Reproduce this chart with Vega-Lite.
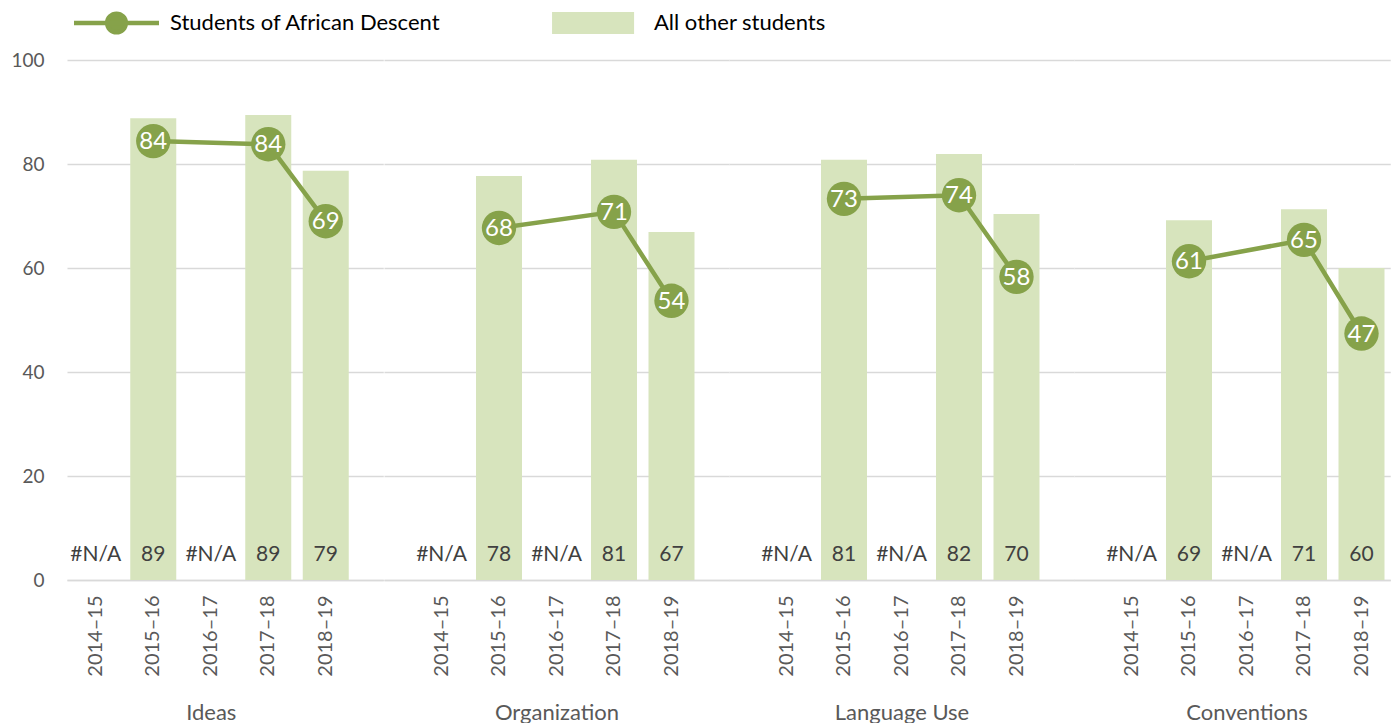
{
  "$schema": "https://vega.github.io/schema/vega-lite/v6.json",
  "padding": {"left": 10, "top": 10, "right": 5, "bottom": 5},
  "background": "white",
  "config": {
    "font": "Lato",
    "view": {"stroke": null},
    "axis": {"labelFont": "Lato", "titleFont": "Lato"},
    "axisX": {
      "labelAngle": -90,
      "labelFontSize": 20,
      "labelColor": "#595959",
      "labelPadding": 15,
      "ticks": false,
      "domainColor": "#d9d9d9",
      "domainWidth": 1.5,
      "grid": false,
      "titleFontSize": 22,
      "titleColor": "#595959",
      "titleFontWeight": "normal",
      "titlePadding": 26
    },
    "axisY": {
      "ticks": false,
      "domain": false,
      "gridColor": "#d9d9d9",
      "gridWidth": 1.5
    }
  },
  "data": {
    "values": [
      {"group": "Ideas", "year": "2014–15", "other": null, "african": null},
      {"group": "Ideas", "year": "2015–16", "other": 88.8, "african": 84.4},
      {"group": "Ideas", "year": "2016–17", "other": null, "african": null},
      {"group": "Ideas", "year": "2017–18", "other": 89.4, "african": 83.8},
      {"group": "Ideas", "year": "2018–19", "other": 78.7, "african": 69.0},
      {"group": "Organization", "year": "2014–15", "other": null, "african": null},
      {"group": "Organization", "year": "2015–16", "other": 77.7, "african": 67.7},
      {"group": "Organization", "year": "2016–17", "other": null, "african": null},
      {"group": "Organization", "year": "2017–18", "other": 80.8, "african": 70.8},
      {"group": "Organization", "year": "2018–19", "other": 66.9, "african": 53.7},
      {"group": "Language Use", "year": "2014–15", "other": null, "african": null},
      {"group": "Language Use", "year": "2015–16", "other": 80.8, "african": 73.3},
      {"group": "Language Use", "year": "2016–17", "other": null, "african": null},
      {"group": "Language Use", "year": "2017–18", "other": 81.9, "african": 74.0},
      {"group": "Language Use", "year": "2018–19", "other": 70.4, "african": 58.3},
      {"group": "Conventions", "year": "2014–15", "other": null, "african": null},
      {"group": "Conventions", "year": "2015–16", "other": 69.2, "african": 61.3},
      {"group": "Conventions", "year": "2016–17", "other": null, "african": null},
      {"group": "Conventions", "year": "2017–18", "other": 71.3, "african": 65.4},
      {"group": "Conventions", "year": "2018–19", "other": 60.0, "african": 47.4}
    ]
  },
  "spacing": 0,
  "resolve": {
    "scale": {"x": "independent", "y": "shared", "color": "shared"},
    "axis": {"x": "independent", "y": "independent"}
  },
  "hconcat": [
    {
      "width": 316.25,
      "height": 520,
      "transform": [{"filter": "datum.group === 'Ideas'"}],
      "encoding": {
        "x": {
          "field": "year", "type": "ordinal",
          "sort": ["2014–15", "2015–16", "2016–17", "2017–18", "2018–19"],
          "scale": {"paddingInner": 0.2, "paddingOuter": 0.35, "align": 0.142857},
          "axis": {"title": "Ideas", "titleX": 143.75}
        }
      },
      "layer": [
        {
          "mark": {"type": "bar"},
          "encoding": {
            "y": {
              "field": "other", "type": "quantitative",
              "scale": {"domain": [0, 100], "nice": false},
              "axis": {
                "title": null,
                "values": [0, 20, 40, 60, 80, 100],
                "labelFontSize": 19,
                "labelColor": "#595959",
                "labelPadding": 23
              }
            },
            "color": {
              "datum": "All other students",
              "scale": {
                "domain": ["Students of African Descent", "All other students"],
                "range": ["#86a24a", "#d7e4bd"]
              },
              "legend": {
                "title": null,
                "orient": "top",
                "direction": "horizontal",
                "symbolSize": 7225,
                "clipHeight": 26,
                "columnPadding": 110,
                "labelFont": "Lato",
                "labelFontSize": 22,
                "labelColor": "#000000",
                "labelLimit": 400,
                "offset": 15,
                "padding": 0,
                "encode": {
                  "symbols": {
                    "update": {
                      "x": {"value": 49.5},
                      "shape": {"signal": "datum.value === 'All other students' ? 'M-1.14,-0.26H0.79V0.26H-1.14Z' : 'M-1,0H1M0.22,0A0.22,0.22,0,1,1,-0.22,0A0.22,0.22,0,1,1,0.22,0Z'"},
                      "fill": {"scale": "color", "field": "value"},
                      "stroke": {"scale": "color", "field": "value"},
                      "strokeWidth": {"signal": "datum.value === 'All other students' ? 0 : 4.5"},
                      "opacity": {"value": 1}
                    }
                  },
                  "labels": {"update": {"x": {"value": 103}}}
                }
              }
            }
          }
        },
        {
          "transform": [{"calculate": "datum.other == null ? '#N/A' : format(datum.other, '.0f')", "as": "otherLabel"}],
          "mark": {"type": "text", "baseline": "alphabetic", "dy": -19, "fontSize": 21, "color": "#404040"},
          "encoding": {"y": {"datum": 0}, "text": {"field": "otherLabel"}}
        },
        {
          "transform": [{"filter": "datum.african != null"}],
          "mark": {"type": "line", "strokeWidth": 4.5},
          "encoding": {"y": {"field": "african", "type": "quantitative"}, "color": {"datum": "Students of African Descent"}}
        },
        {
          "transform": [{"filter": "datum.african != null"}],
          "mark": {"type": "point", "filled": true, "size": 1180, "opacity": 1, "shape": "circle"},
          "encoding": {"y": {"field": "african", "type": "quantitative"}, "color": {"datum": "Students of African Descent"}}
        },
        {
          "transform": [{"filter": "datum.african != null"}],
          "mark": {"type": "text", "baseline": "middle", "fontSize": 24, "color": "white", "dy": 1},
          "encoding": {"y": {"field": "african", "type": "quantitative"}, "text": {"field": "african", "type": "quantitative", "format": ".0f"}}
        }
      ]
    },
    {
      "width": 345,
      "height": 520,
      "transform": [{"filter": "datum.group === 'Organization'"}],
      "encoding": {
        "x": {
          "field": "year", "type": "ordinal",
          "sort": ["2014–15", "2015–16", "2016–17", "2017–18", "2018–19"],
          "scale": {"paddingInner": 0.2, "paddingOuter": 0.6, "align": 0.5},
          "axis": {"title": "Organization"}
        }
      },
      "layer": [
        {
          "mark": {"type": "bar"},
          "encoding": {
            "y": {
              "field": "other", "type": "quantitative",
              "scale": {"domain": [0, 100], "nice": false},
              "axis": {"title": null, "values": [0, 20, 40, 60, 80, 100], "labels": false, "minExtent": 0, "maxExtent": 0}
            },
            "color": {"datum": "All other students"}
          }
        },
        {
          "transform": [{"calculate": "datum.other == null ? '#N/A' : format(datum.other, '.0f')", "as": "otherLabel"}],
          "mark": {"type": "text", "baseline": "alphabetic", "dy": -19, "fontSize": 21, "color": "#404040"},
          "encoding": {"y": {"datum": 0}, "text": {"field": "otherLabel"}}
        },
        {
          "transform": [{"filter": "datum.african != null"}],
          "mark": {"type": "line", "strokeWidth": 4.5},
          "encoding": {"y": {"field": "african", "type": "quantitative"}, "color": {"datum": "Students of African Descent"}}
        },
        {
          "transform": [{"filter": "datum.african != null"}],
          "mark": {"type": "point", "filled": true, "size": 1180, "opacity": 1, "shape": "circle"},
          "encoding": {"y": {"field": "african", "type": "quantitative"}, "color": {"datum": "Students of African Descent"}}
        },
        {
          "transform": [{"filter": "datum.african != null"}],
          "mark": {"type": "text", "baseline": "middle", "fontSize": 24, "color": "white", "dy": 1},
          "encoding": {"y": {"field": "african", "type": "quantitative"}, "text": {"field": "african", "type": "quantitative", "format": ".0f"}}
        }
      ]
    },
    {
      "width": 345,
      "height": 520,
      "transform": [{"filter": "datum.group === 'Language Use'"}],
      "encoding": {
        "x": {
          "field": "year", "type": "ordinal",
          "sort": ["2014–15", "2015–16", "2016–17", "2017–18", "2018–19"],
          "scale": {"paddingInner": 0.2, "paddingOuter": 0.6, "align": 0.5},
          "axis": {"title": "Language Use"}
        }
      },
      "layer": [
        {
          "mark": {"type": "bar"},
          "encoding": {
            "y": {
              "field": "other", "type": "quantitative",
              "scale": {"domain": [0, 100], "nice": false},
              "axis": {"title": null, "values": [0, 20, 40, 60, 80, 100], "labels": false, "minExtent": 0, "maxExtent": 0}
            },
            "color": {"datum": "All other students"}
          }
        },
        {
          "transform": [{"calculate": "datum.other == null ? '#N/A' : format(datum.other, '.0f')", "as": "otherLabel"}],
          "mark": {"type": "text", "baseline": "alphabetic", "dy": -19, "fontSize": 21, "color": "#404040"},
          "encoding": {"y": {"datum": 0}, "text": {"field": "otherLabel"}}
        },
        {
          "transform": [{"filter": "datum.african != null"}],
          "mark": {"type": "line", "strokeWidth": 4.5},
          "encoding": {"y": {"field": "african", "type": "quantitative"}, "color": {"datum": "Students of African Descent"}}
        },
        {
          "transform": [{"filter": "datum.african != null"}],
          "mark": {"type": "point", "filled": true, "size": 1180, "opacity": 1, "shape": "circle"},
          "encoding": {"y": {"field": "african", "type": "quantitative"}, "color": {"datum": "Students of African Descent"}}
        },
        {
          "transform": [{"filter": "datum.african != null"}],
          "mark": {"type": "text", "baseline": "middle", "fontSize": 24, "color": "white", "dy": 1},
          "encoding": {"y": {"field": "african", "type": "quantitative"}, "text": {"field": "african", "type": "quantitative", "format": ".0f"}}
        }
      ]
    },
    {
      "width": 316.25,
      "height": 520,
      "transform": [{"filter": "datum.group === 'Conventions'"}],
      "encoding": {
        "x": {
          "field": "year", "type": "ordinal",
          "sort": ["2014–15", "2015–16", "2016–17", "2017–18", "2018–19"],
          "scale": {"paddingInner": 0.2, "paddingOuter": 0.35, "align": 0.857143},
          "axis": {"title": "Conventions", "titleX": 172.5}
        }
      },
      "layer": [
        {
          "mark": {"type": "bar"},
          "encoding": {
            "y": {
              "field": "other", "type": "quantitative",
              "scale": {"domain": [0, 100], "nice": false},
              "axis": {"title": null, "values": [0, 20, 40, 60, 80, 100], "labels": false, "minExtent": 0, "maxExtent": 0}
            },
            "color": {"datum": "All other students"}
          }
        },
        {
          "transform": [{"calculate": "datum.other == null ? '#N/A' : format(datum.other, '.0f')", "as": "otherLabel"}],
          "mark": {"type": "text", "baseline": "alphabetic", "dy": -19, "fontSize": 21, "color": "#404040"},
          "encoding": {"y": {"datum": 0}, "text": {"field": "otherLabel"}}
        },
        {
          "transform": [{"filter": "datum.african != null"}],
          "mark": {"type": "line", "strokeWidth": 4.5},
          "encoding": {"y": {"field": "african", "type": "quantitative"}, "color": {"datum": "Students of African Descent"}}
        },
        {
          "transform": [{"filter": "datum.african != null"}],
          "mark": {"type": "point", "filled": true, "size": 1180, "opacity": 1, "shape": "circle"},
          "encoding": {"y": {"field": "african", "type": "quantitative"}, "color": {"datum": "Students of African Descent"}}
        },
        {
          "transform": [{"filter": "datum.african != null"}],
          "mark": {"type": "text", "baseline": "middle", "fontSize": 24, "color": "white", "dy": 1},
          "encoding": {"y": {"field": "african", "type": "quantitative"}, "text": {"field": "african", "type": "quantitative", "format": ".0f"}}
        }
      ]
    }
  ]
}
